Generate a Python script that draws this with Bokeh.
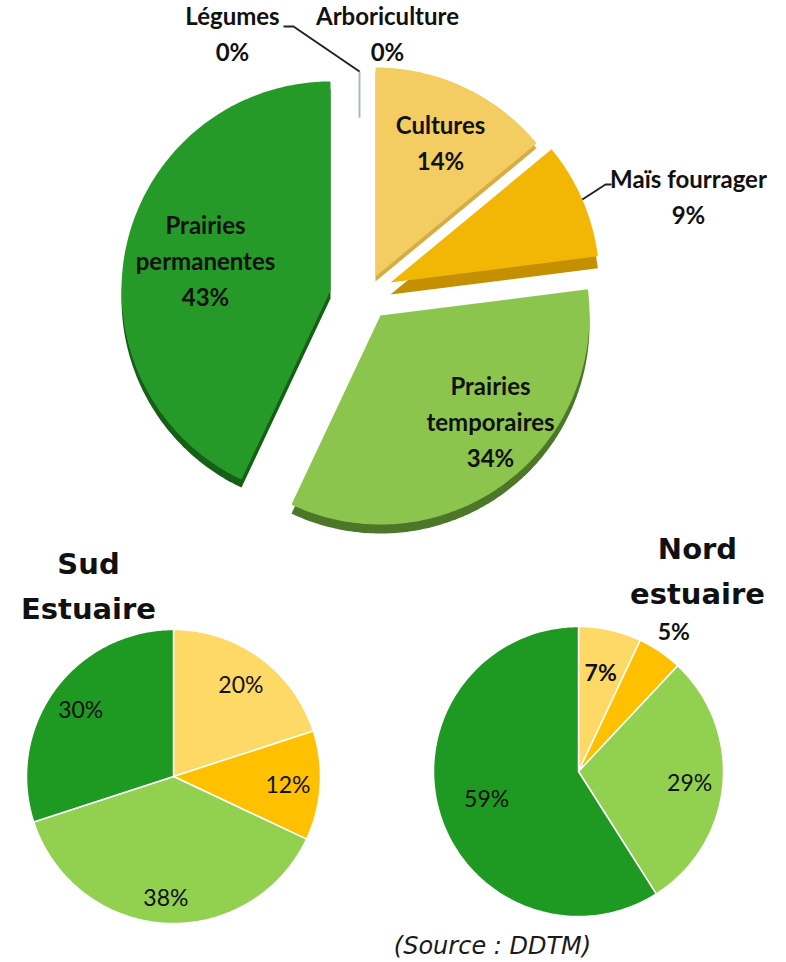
import numpy as np
from bokeh.plotting import figure
from bokeh.models import Range1d, ColumnDataSource
from bokeh.core.properties import value
from bokeh.embed import file_html
from bokeh.resources import INLINE

# ---------------- data ----------------
top_categories = ["Cultures", "Maïs fourrager", "Prairies temporaires",
                  "Prairies permanentes", "Légumes", "Arboriculture"]
top_values = [14, 9, 34, 43, 0, 0]

small_categories = ["Cultures", "Maïs fourrager", "Prairies temporaires", "Prairies permanentes"]
sud_values = [20, 12, 38, 30]
nord_values = [7, 5, 29, 59]

sud_title = "Sud\nEstuaire"
nord_title = "Nord\nestuaire"
source_text = "(Source : DDTM)"

# ---------------- styles / layout ----------------
top_colors = ["#F3CD62", "#F2B705", "#8CC54E", "#259A29", "#B8C2CC", "#B8C2CC"]
top_side_colors = ["#D6AC44", "#C48F00", "#4C7628", "#155F16", "#B8C2CC", "#B8C2CC"]
small_colors = ["#FFD966", "#FFC000", "#92D050", "#1E9922"]

W, H = 786, 962

TOP_C = (360.0, 290.0)
TOP_R = 209.0
top_explode = [(15, -14), (30, -8), (20, 25), (-30, 0), (-1, -10), (-1, -10)]
top_depth = [5, 12, 9, 8, 0, 0]
top_label_lines = ["Cultures", "Maïs fourrager", "Prairies\ntemporaires",
                   "Prairies\npermanentes", "Légumes", "Arboriculture"]
top_label_pos = [(440, 142), (688, 196), (490, 421), (205, 260), (232, 33), (387, 33)]

SUD_C, SUD_R = (173.0, 776.0), 147.0
NORD_C, NORD_R = (578.0, 771.0), 145.0
sud_label_r = [0.78, 0.78, 0.82, 0.78]
nord_label_r = [0.70, 1.17, 0.77, 0.66]
nord_bold = [True, True, False, False]


def angles(vals):
    tot = float(sum(vals))
    out = []
    start = 90.0
    for v in vals:
        end = start - 360.0 * v / tot
        out.append((start, end))
        start = end
    return out


def sector(cx, cy, r, a0, a1, n=160):
    t = np.linspace(np.radians(a0), np.radians(a1), n)
    xs = np.concatenate([[cx], cx + r * np.cos(t), [cx]])
    ys = np.concatenate([[cy], cy - r * np.sin(t), [cy]])
    return list(xs), list(ys)


p = figure(width=W, height=H, x_range=Range1d(0, W), y_range=Range1d(H, 0),
           output_backend="svg", toolbar_location=None, min_border=0,
           x_axis_location=None, y_axis_location=None)
p.grid.visible = False
p.outline_line_color = None
p.background_fill_color = "white"
p.border_fill_color = "white"

# ---------------- big exploded pie ----------------
top_ang = angles(top_values)
side_xs, side_ys, side_c = [], [], []
face_xs, face_ys, face_c = [], [], []
for i, v in enumerate(top_values):
    if v == 0:
        continue
    a0, a1 = top_ang[i]
    cx = TOP_C[0] + top_explode[i][0]
    cy = TOP_C[1] + top_explode[i][1]
    xs, ys = sector(cx, cy + top_depth[i], TOP_R, a0, a1)
    side_xs.append(xs); side_ys.append(ys); side_c.append(top_side_colors[i])
    xs, ys = sector(cx, cy, TOP_R, a0, a1)
    face_xs.append(xs); face_ys.append(ys); face_c.append(top_colors[i])

p.patches(xs=side_xs, ys=side_ys, fill_color=side_c, line_color=None)
p.patches(xs=face_xs, ys=face_ys, fill_color=face_c, line_color=None)

# zero-value slices seen edge-on
for i, v in enumerate(top_values):
    if v != 0:
        continue
    a0, _ = top_ang[i]
    cx = TOP_C[0] + top_explode[i][0]
    cy = TOP_C[1] + top_explode[i][1]
    rr = np.array([0.78, 1.0]) * TOP_R
    p.line(x=list(cx + rr * np.cos(np.radians(a0))), y=list(cy - rr * np.sin(np.radians(a0))),
           line_color="#A9B4C0", line_width=1.5)

# leader lines
zero_top_x = TOP_C[0] + top_explode[4][0]
zero_top_y = TOP_C[1] + top_explode[4][1] - TOP_R
p.line(x=[283, 293, zero_top_x], y=[26, 26, zero_top_y], line_color="#222222", line_width=2)
ma0, ma1 = top_ang[1]
mmid = np.radians((ma0 + ma1) / 2)
mx = TOP_C[0] + top_explode[1][0] + TOP_R * np.cos(mmid)
my = TOP_C[1] + top_explode[1][1] - TOP_R * np.sin(mmid)
p.line(x=[mx, 605, 611], y=[my, 184, 184], line_color="#222222", line_width=2)

top_text = [f"{top_label_lines[i]}\n{top_values[i]}%" for i in range(len(top_values))]
p.text(x=[q[0] for q in top_label_pos], y=[q[1] for q in top_label_pos], text=top_text,
       text_font=value("Lato"), text_font_style="bold", text_font_size="24px",
       text_align="center", text_baseline="middle", text_color="#111111",
       text_line_height=1.25)

# ---------------- small pies ----------------
def small_pie(center, r, vals, label_r, bold):
    ang = angles(vals)
    xs_l, ys_l = [], []
    lx, ly, lt, ls = [], [], [], []
    for i, v in enumerate(vals):
        a0, a1 = ang[i]
        xs, ys = sector(center[0], center[1], r, a0, a1)
        xs_l.append(xs); ys_l.append(ys)
        mid = np.radians((a0 + a1) / 2)
        lx.append(center[0] + label_r[i] * r * np.cos(mid))
        ly.append(center[1] - label_r[i] * r * np.sin(mid))
        lt.append(f"{v}%")
        ls.append("bold" if bold[i] else "normal")
    p.patches(xs=xs_l, ys=ys_l, fill_color=small_colors[:len(vals)],
              line_color="white", line_width=1.5)
    src = ColumnDataSource(dict(x=lx, y=ly, t=lt, s=ls))
    p.text(x="x", y="y", text="t", source=src, text_font=value("Lato"),
           text_font_style="s", text_font_size="23px", text_align="center",
           text_baseline="middle", text_color="#111111")


small_pie(SUD_C, SUD_R, sud_values, sud_label_r, [False] * 4)
small_pie(NORD_C, NORD_R, nord_values, nord_label_r, nord_bold)

# titles
p.text(x=[88, 697], y=[586, 571], text=[sud_title, nord_title],
       text_font=value("DejaVu Sans"), text_font_style="bold", text_font_size="29px",
       text_align="center", text_baseline="middle", text_color="#111111",
       text_line_height=1.3)

p.text(x=[492], y=[945], text=[source_text], text_font=value("DejaVu Sans"),
       text_font_style="italic", text_font_size="24px", text_align="center",
       text_baseline="middle", text_color="#1a1a1a")

open("out.html", "w").write(file_html(p, INLINE))
